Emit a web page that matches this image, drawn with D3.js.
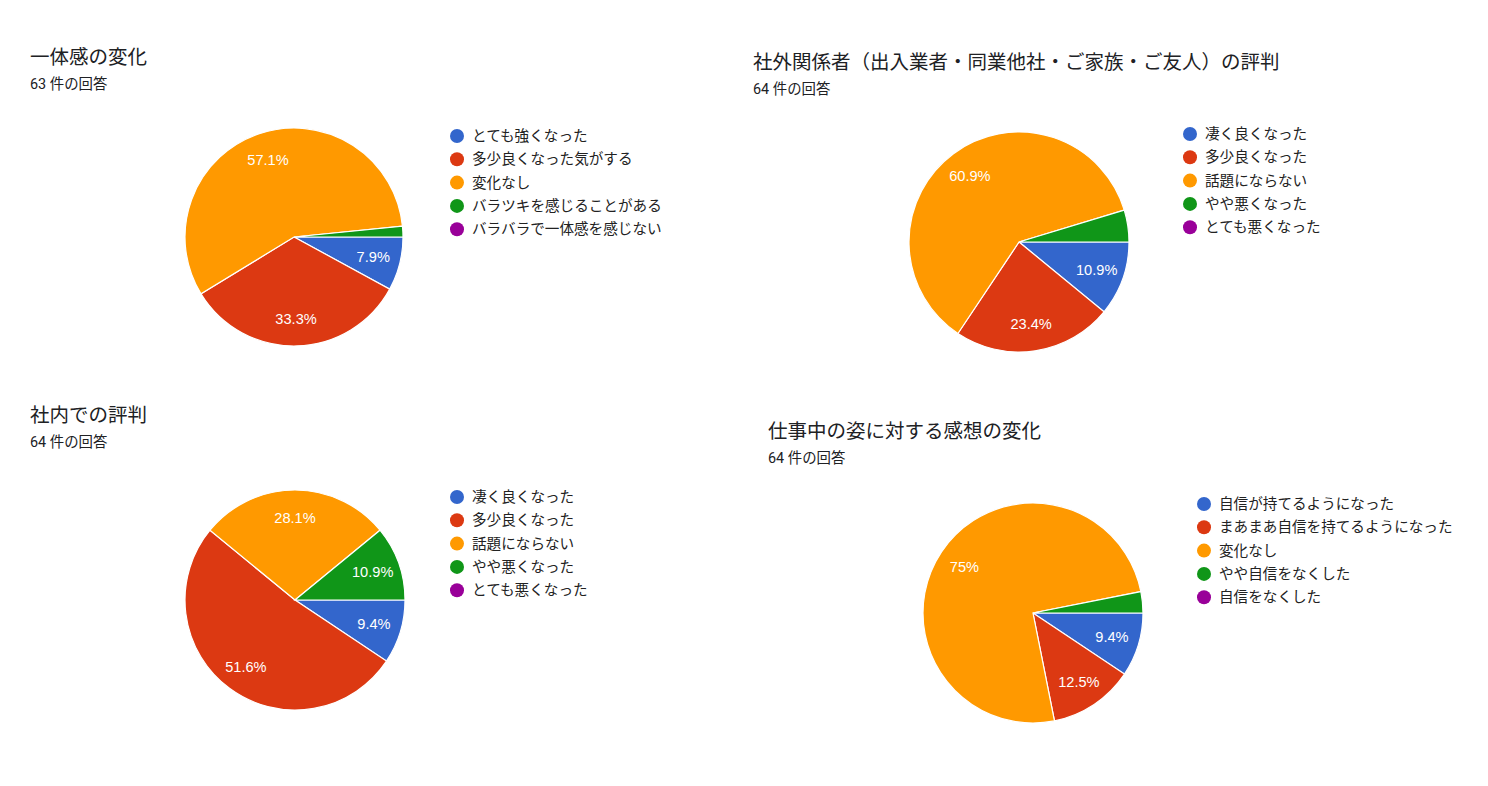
<!DOCTYPE html>
<html>
<head>
<meta charset="utf-8">
<script src="https://cdn.jsdelivr.net/npm/d3@7"></script>
<style>
  body { margin: 0; background: #fff; }
  svg { display: block; font-family: Roboto, Arial, "Noto Sans CJK JP", sans-serif; }
  .title { font-size: 19.5px; fill: #202124; }
  .sub { font-size: 14.4px; fill: #202124; }
  .legend text { font-size: 14.6px; fill: #222; }
  .slice-label { font-size: 14.6px; fill: #fff; font-family: Arial, "Liberation Sans", sans-serif; }
</style>
</head>
<body>
<script>
var colors = ["#3366cc", "#dc3912", "#ff9900", "#109618", "#990099"];

var titles = [
  "一体感の変化",
  "社外関係者（出入業者・同業他社・ご家族・ご友人）の評判",
  "社内での評判",
  "仕事中の姿に対する感想の変化"
];
var responses = [63, 64, 64, 64];

var labels1 = ["とても強くなった", "多少良くなった気がする", "変化なし", "バラツキを感じることがある", "バラバラで一体感を感じない"];
var labels2 = ["凄く良くなった", "多少良くなった", "話題にならない", "やや悪くなった", "とても悪くなった"];
var labels3 = ["凄く良くなった", "多少良くなった", "話題にならない", "やや悪くなった", "とても悪くなった"];
var labels4 = ["自信が持てるようになった", "まあまあ自信を持てるようになった", "変化なし", "やや自信をなくした", "自信をなくした"];

var counts1 = [5, 21, 36, 1, 0];
var counts2 = [7, 15, 39, 3, 0];
var counts3 = [6, 33, 18, 7, 0];
var counts4 = [6, 8, 48, 2, 0];

// placement of each panel
var panels = [
  {tx: 30,  ty: 64,  cx: 294,  cy: 237, r: 109, lx: 457,  ly: 136},
  {tx: 753, ty: 69,  cx: 1019, cy: 242, r: 110, lx: 1190, ly: 134},
  {tx: 30,  ty: 422, cx: 295,  cy: 600, r: 110, lx: 457,  ly: 497},
  {tx: 768, ty: 438, cx: 1033, cy: 613, r: 110, lx: 1204, ly: 504}
];
var allLabels = [labels1, labels2, labels3, labels4];
var allCounts = [counts1, counts2, counts3, counts4];

var svg = d3.select("body").append("svg")
    .attr("width", 1488)
    .attr("height", 786);

var pie = d3.pie()
    .sort(null)
    .startAngle(Math.PI / 2)
    .endAngle(Math.PI / 2 + 2 * Math.PI);

var pct = function (v) {
  return d3.format(".1f")(v * 100).replace(/\.0$/, "") + "%";
};

panels.forEach(function (p, i) {
  var g = svg.append("g");
  var counts = allCounts[i];
  var total = d3.sum(counts);

  g.append("text").attr("class", "title")
      .attr("x", p.tx).attr("y", p.ty)
      .text(titles[i]);
  g.append("text").attr("class", "sub")
      .attr("x", p.tx).attr("y", p.ty + 25)
      .text(responses[i] + " 件の回答");

  var arc = d3.arc().innerRadius(0).outerRadius(p.r);
  var labelArc = d3.arc().innerRadius(p.r * 0.75).outerRadius(p.r * 0.75);

  var pg = g.append("g").attr("transform", "translate(" + p.cx + "," + p.cy + ")");
  var arcs = pie(counts).filter(function (d) { return d.value > 0; });

  pg.selectAll("path.slice")
    .data(arcs)
    .enter().append("path")
      .attr("class", "slice")
      .attr("d", arc)
      .attr("fill", function (d) { return colors[d.index]; })
      .attr("stroke", "#fff")
      .attr("stroke-width", 1.2);

  pg.selectAll("text.slice-label")
    .data(arcs.filter(function (d) { return d.value / total >= 0.05; }))
    .enter().append("text")
      .attr("class", "slice-label")
      .attr("transform", function (d) { return "translate(" + labelArc.centroid(d) + ")"; })
      .attr("text-anchor", "middle")
      .attr("dy", "0.36em")
      .text(function (d) { return pct(d.value / total); });

  var lg = g.append("g").attr("class", "legend")
      .attr("transform", "translate(" + p.lx + "," + p.ly + ")");
  var item = lg.selectAll("g")
    .data(allLabels[i])
    .enter().append("g")
      .attr("transform", function (d, j) { return "translate(0," + (j * 23.3) + ")"; });
  item.append("circle")
      .attr("r", 7)
      .attr("fill", function (d, j) { return colors[j]; });
  item.append("text")
      .attr("x", 15)
      .attr("dy", "0.35em")
      .text(function (d) { return d; });
});
</script>
</body>
</html>
